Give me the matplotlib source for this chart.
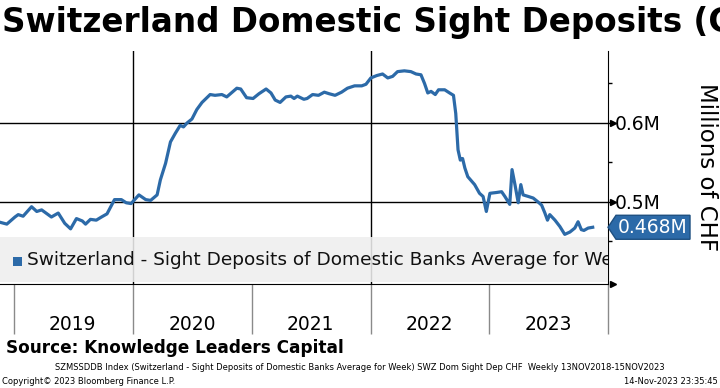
import numpy as np
import pandas as pd
import matplotlib
matplotlib.use("Agg")
import matplotlib.pyplot as plt
import matplotlib.dates as mdates
import matplotlib.transforms as mtransforms
from matplotlib.patches import Rectangle, Polygon

# weekly sight deposits (millions of CHF, in M)
dates = [
    '2018-11-13', '2018-12-10', '2019-01-04', '2019-01-14', '2019-01-29', '2019-02-24',
    '2019-03-12', '2019-03-27', '2019-04-26', '2019-05-17', '2019-06-06', '2019-06-24',
    '2019-07-12', '2019-07-30', '2019-08-09', '2019-08-24', '2019-09-11', '2019-09-27',
    '2019-10-14', '2019-11-06', '2019-11-27', '2019-12-12', '2019-12-27', '2020-01-20',
    '2020-02-10', '2020-02-25', '2020-03-16', '2020-03-26', '2020-04-11', '2020-04-26',
    '2020-05-11', '2020-05-26', '2020-06-05', '2020-06-16', '2020-07-01', '2020-07-16',
    '2020-08-01', '2020-08-26', '2020-09-10', '2020-10-01', '2020-10-16', '2020-11-16',
    '2020-11-28', '2020-12-16', '2021-01-05', '2021-01-23', '2021-02-14', '2021-03-01',
    '2021-03-14', '2021-03-29', '2021-04-16', '2021-05-01', '2021-05-11', '2021-05-21',
    '2021-06-10', '2021-06-20', '2021-07-07', '2021-07-25', '2021-08-12', '2021-08-27',
    '2021-09-14', '2021-10-04', '2021-10-22', '2021-11-13', '2021-12-05', '2021-12-18',
    '2022-01-02', '2022-01-20', '2022-02-07', '2022-02-23', '2022-03-10', '2022-03-25',
    '2022-04-15', '2022-05-05', '2022-05-21', '2022-06-05', '2022-06-16', '2022-06-26',
    '2022-07-06', '2022-07-19', '2022-07-29', '2022-08-17', '2022-09-01', '2022-09-13',
    '2022-09-20', '2022-09-27', '2022-10-04', '2022-10-11', '2022-10-18', '2022-10-27',
    '2022-11-17', '2022-12-02', '2022-12-13', '2022-12-23', '2023-01-03', '2023-01-23',
    '2023-02-08', '2023-02-18', '2023-03-05', '2023-03-12', '2023-03-21', '2023-03-31',
    '2023-04-08', '2023-04-15', '2023-05-01', '2023-05-16', '2023-05-31', '2023-06-11',
    '2023-06-21', '2023-06-29', '2023-07-06', '2023-07-22', '2023-08-06', '2023-08-21',
    '2023-09-06', '2023-09-21', '2023-10-01', '2023-10-11', '2023-10-19', '2023-11-01',
    '2023-11-15',
]
deposits = [
    0.475, 0.472, 0.481, 0.484, 0.482, 0.494,
    0.488, 0.490, 0.481, 0.486, 0.473, 0.466,
    0.479, 0.476, 0.472, 0.478, 0.477, 0.481,
    0.485, 0.503, 0.503, 0.499, 0.498, 0.509,
    0.503, 0.502, 0.509, 0.528, 0.549, 0.576,
    0.587, 0.597, 0.595, 0.600, 0.605, 0.617,
    0.626, 0.636, 0.635, 0.636, 0.633, 0.644,
    0.643, 0.632, 0.631, 0.637, 0.643, 0.638,
    0.629, 0.626, 0.633, 0.634, 0.631, 0.634,
    0.630, 0.631, 0.636, 0.635, 0.639, 0.637,
    0.635, 0.639, 0.644, 0.647, 0.647, 0.649,
    0.657, 0.660, 0.662, 0.657, 0.659, 0.665,
    0.666, 0.665, 0.662, 0.661, 0.650, 0.638,
    0.640, 0.636, 0.642, 0.642, 0.638, 0.635,
    0.612, 0.566, 0.553, 0.555, 0.543, 0.532,
    0.522, 0.511, 0.507, 0.488, 0.511, 0.512,
    0.513, 0.507, 0.497, 0.541, 0.522, 0.499,
    0.522, 0.509, 0.507, 0.505, 0.500, 0.496,
    0.486, 0.477, 0.484, 0.477, 0.469, 0.459,
    0.462, 0.467, 0.475, 0.465, 0.464, 0.467,
    0.468,
]

years = ['2019', '2020', '2021', '2022', '2023']
ytick_vals = [0.5, 0.6]
ytick_labels = ['0.5M', '0.6M']
series_name = 'Switzerland - Sight Deposits of Domestic Banks Average for Week'
last_label = '0.468M'

blue = '#2c6aa8'
W, H = 720, 388

x = pd.to_datetime(dates)
fig = plt.figure(figsize=(W / 100, H / 100), dpi=100)
ax = fig.add_axes([0, 1 - 284 / H, 608 / W, (284 - 51) / H])

ax.set_xlim(pd.Timestamp('2018-11-19'), pd.Timestamp('2024-01-01'))
ax.set_ylim(0.3962, 0.6911)

# grid (every other year vertically)
for v in ytick_vals:
    ax.axhline(v, color='black', lw=1, zorder=1)
for yr in ['2020-01-01', '2022-01-01']:
    ax.axvline(pd.Timestamp(yr), color='black', lw=1, zorder=1)

ax.plot(x, deposits, color=blue, lw=2.3, zorder=3, solid_joinstyle='round')

# spines
for s in ['left', 'top']:
    ax.spines[s].set_visible(False)
ax.spines['right'].set_color('black')
ax.spines['bottom'].set_color('black')

# y axis on the right
ax.yaxis.tick_right()
ax.set_yticks(ytick_vals)
ax.set_yticklabels(ytick_labels)
ax.set_yticks([0.45, 0.55, 0.65], minor=True)
ax.tick_params(axis='y', which='major', length=4, width=1, pad=1, labelsize=13.5, direction='out')
ax.tick_params(axis='y', which='minor', length=3, width=1, direction='out')
trans_r = mtransforms.blended_transform_factory(ax.transAxes, ax.transData)
ax.plot([1.008] * len(ytick_vals), ytick_vals, marker='>', ms=5, ls='none', color='black',
        transform=trans_r, clip_on=False)
ax.plot([1.008], [0], marker='>', ms=5, color='black', transform=ax.transAxes, clip_on=False)

# x axis: long separators at year starts, year labels mid-year
bounds = [pd.Timestamp(f'{y}-01-01') for y in years] + [pd.Timestamp(f'{int(years[-1]) + 1}-01-01')]
ax.set_xticks(bounds)
ax.set_xticklabels([''] * len(bounds))
ax.set_xticks([pd.Timestamp(f'{y}-07-01') for y in years], minor=True)
ax.set_xticklabels(years, minor=True)
ax.tick_params(axis='x', which='major', length=36, width=1, color='#8a8a8a', direction='out')
ax.tick_params(axis='x', which='minor', length=0, pad=22, labelsize=13.5)

# legend band
ax.add_patch(Rectangle((0, 0.009), 1, 0.193, transform=ax.transAxes, facecolor='#eeeeee',
                       edgecolor='none', alpha=0.88, zorder=4))
ax.add_patch(Rectangle((13 / 608, 0.078), 9 / 608, 0.04, transform=ax.transAxes,
                       facecolor=blue, edgecolor='none', zorder=5))
ax.text(27 / 608, 0.103, series_name, transform=ax.transAxes, fontsize=13.3, va='center',
        ha='left', color='#111111', zorder=5, clip_on=True)

# last value tag
y_last = ax.transData.transform((0, deposits[-1]))[1]
def px(xp, yp):
    return (xp / W, yp / H)
tag = Polygon([px(608, y_last), px(616, y_last + 12), px(690, y_last + 12),
               px(690, y_last - 12), px(616, y_last - 12)], closed=True,
              transform=fig.transFigure, facecolor=blue, edgecolor='#1d4f80', lw=1,
              clip_on=False)
fig.patches.append(tag)
fig.text(653 / W, y_last / H, last_label, color='white', fontsize=13.5, ha='center',
         va='center')

fig.text(706 / W, 1 - 167 / H, 'Millions of CHF', rotation=270, fontsize=16.5,
         ha='center', va='center')

# titles and footer
fig.text(2 / W, 1 - 32 / H, 'Switzerland Domestic Sight Deposits (CHF)', fontsize=23.5,
         fontweight='bold', ha='left', va='baseline')
fig.text(6 / W, 1 - 348 / H, 'Source: Knowledge Leaders Capital', fontsize=12.2,
         fontweight='bold', ha='left', va='center')
fig.text(0.5, 1 - 368 / H,
         'SZMSSDDB Index (Switzerland - Sight Deposits of Domestic Banks Average for Week) '
         'SWZ Dom Sight Dep CHF  Weekly 13NOV2018-15NOV2023',
         fontsize=6, ha='center', va='center')
fig.text(2 / W, 1 - 381 / H, 'Copyright\u00a9 2023 Bloomberg Finance L.P.', fontsize=6,
         ha='left', va='center')
fig.text(718 / W, 1 - 381 / H, '14-Nov-2023 23:35:45', fontsize=6, ha='right', va='center')

fig.savefig('out.png', dpi=100)
